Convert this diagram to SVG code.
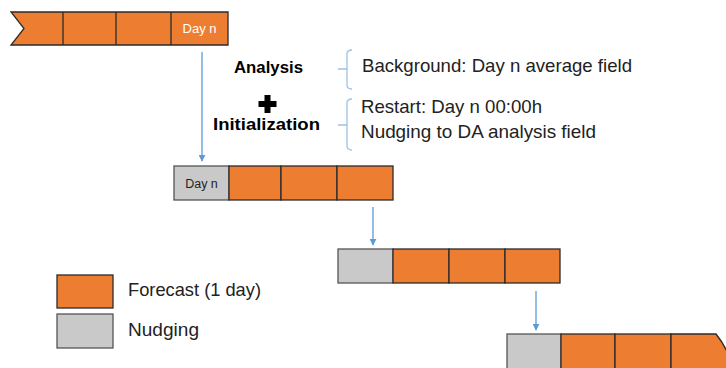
<svg xmlns="http://www.w3.org/2000/svg" width="726" height="368" viewBox="0 0 726 368">
<style>
.or{fill:#ED7D31;stroke:#2b2b2b;stroke-width:1.3}
.gr{fill:#C9C9C9;stroke:#555;stroke-width:1.3}
.t{font-family:"Liberation Sans",Arial,sans-serif;fill:#222}
.b{font-weight:bold;font-size:17px;fill:#000}
.lbl{font-size:18.5px}
.arr{stroke:#5B9BD5;stroke-width:1.3;fill:none;marker-end:url(#ah)}
.br{stroke:#9DC3E6;stroke-width:1.3;fill:none}
</style>
<defs>
<marker id="ah" viewBox="0 0 10 10" refX="9" refY="5" markerWidth="7" markerHeight="7" markerUnits="userSpaceOnUse" orient="auto">
<path d="M0,0 L10,5 L0,10 z" fill="#5B9BD5"/>
</marker>
</defs>
<g id="bar1">
<path class="or" d="M11,12 H228 V45 H11 L24,28.5 Z"/>
<line class="or" x1="63" y1="12" x2="63" y2="45"/>
<line class="or" x1="116" y1="12" x2="116" y2="45"/>
<line class="or" x1="171" y1="12" x2="171" y2="45"/>
<text class="t" x="199.5" y="33" font-size="13" style="fill:#fff" text-anchor="middle">Day n</text>
</g>
<g id="bar2">
<rect class="gr" x="174" y="166" width="55" height="34"/>
<rect class="or" x="229" y="166" width="52" height="34"/>
<rect class="or" x="281" y="166" width="56" height="34"/>
<rect class="or" x="337" y="166" width="56" height="34"/>
<text class="t" x="201.5" y="188" font-size="12.5" text-anchor="middle">Day n</text>
</g>
<g id="bar3">
<rect class="gr" x="338" y="249" width="55" height="34"/>
<rect class="or" x="393" y="249" width="56" height="34"/>
<rect class="or" x="449" y="249" width="56" height="34"/>
<rect class="or" x="505" y="249" width="55" height="34"/>
</g>
<g id="bar4">
<rect class="gr" x="507" y="334" width="54" height="40"/>
<rect class="or" x="561" y="334" width="54" height="40"/>
<rect class="or" x="615" y="334" width="56" height="40"/>
<path class="or" d="M671,334 H716 Q724,344 728,354 V374 H671 Z"/>
</g>
<g id="connectors">
<line class="arr" x1="202" y1="52" x2="202" y2="161"/>
<line class="arr" x1="373" y1="207" x2="373" y2="245"/>
<line class="arr" x1="536" y1="291" x2="536" y2="330"/>
</g>
<g id="labels">
<text class="t b" x="234" y="73" textLength="69" lengthAdjust="spacingAndGlyphs">Analysis</text>
<path d="M264.5,95 h6 v6 h6 v6 h-6 v6 h-6 v-6 h-6 v-6 h6 z" fill="#000"/>
<text class="t b" x="213" y="130" textLength="107" lengthAdjust="spacingAndGlyphs">Initialization</text>
</g>
<g id="brace1">
<path class="br" d="M352,50 Q347,50 347,54 V85 Q347,89 352,89 M347,69 H338"/>
<text class="t lbl" x="362" y="72" textLength="270" lengthAdjust="spacingAndGlyphs">Background: Day n average field</text>
</g>
<g id="brace2">
<path class="br" d="M352,99 Q347,99 347,103 V146 Q347,150 352,150 M347,125 H338"/>
<text class="t lbl" x="361" y="113" textLength="181" lengthAdjust="spacingAndGlyphs">Restart: Day n 00:00h</text>
<text class="t lbl" x="361" y="138" textLength="235" lengthAdjust="spacingAndGlyphs">Nudging to DA analysis field</text>
</g>
<g id="legend">
<rect class="or" x="57" y="275" width="56" height="33"/>
<rect class="gr" x="57" y="314" width="56" height="34"/>
<text class="t lbl" x="128" y="296" textLength="133" lengthAdjust="spacingAndGlyphs">Forecast (1 day)</text>
<text class="t lbl" x="128" y="336" textLength="71" lengthAdjust="spacingAndGlyphs">Nudging</text>
</g>
</svg>
